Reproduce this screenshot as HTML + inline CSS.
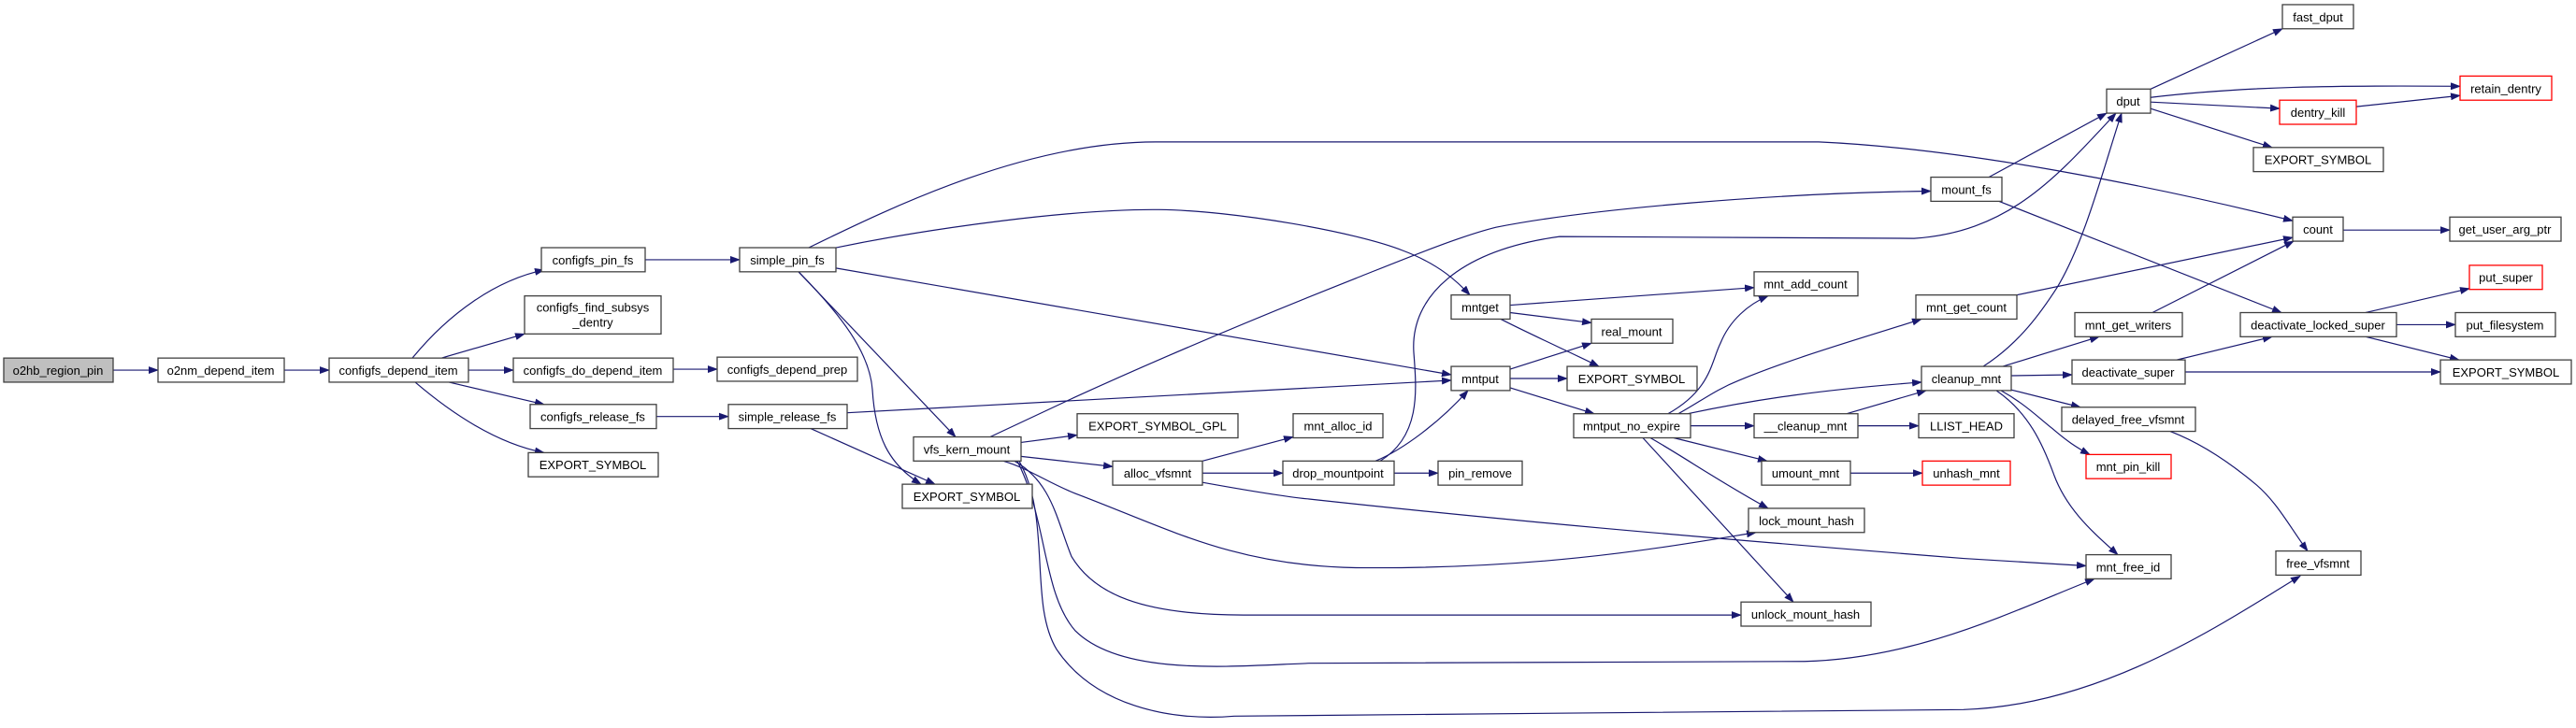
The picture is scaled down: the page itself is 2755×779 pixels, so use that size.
<!DOCTYPE html>
<html><head><meta charset="utf-8"><style>
html,body{margin:0;padding:0;background:#fff;}
svg{display:block;}
text{font-family:"Liberation Sans",Arial,sans-serif;font-size:13px;fill:#000;}
.b{fill:#fff;stroke:#404040;stroke-width:1.3;}
.r{fill:#fff;stroke:#ff0000;stroke-width:1.3;}
.g{fill:#bfbfbf;stroke:#404040;stroke-width:1.3;}
.e{fill:none;stroke:#191970;stroke-width:1.2;marker-end:url(#a);}
</style></head><body>
<svg width="2755" height="779" viewBox="0 0 2755 779" xmlns="http://www.w3.org/2000/svg">
<defs><marker id="a" markerUnits="userSpaceOnUse" markerWidth="11" markerHeight="8" refX="10" refY="4" orient="auto"><path d="M0,0 L11,4 L0,8 z" fill="#191970"/></marker></defs>
<g transform="scale(1,0.9926)">
<!-- edges -->
<path class="e" d="M121,399 L169,399"/>
<path class="e" d="M304,399 L352,399"/>
<path class="e" d="M441,386 C480,338 530,302 582,291"/>
<path class="e" d="M472,386 L561,360"/>
<path class="e" d="M501,399 L549,399"/>
<path class="e" d="M480,412 L582,436"/>
<path class="e" d="M444,412 C480,443 530,478 582,488"/>
<path class="e" d="M690,280 L791,280"/>
<path class="e" d="M720,398 L767,398"/>
<path class="e" d="M702,449 L779,449"/>
<path class="e" d="M865,267 C960,220 1100,153 1236,153 L1945,153 C2100,160 2300,200 2452,238"/>
<path class="e" d="M894,267 C1000,245 1150,225 1240,226 C1320,227 1450,250 1500,270 C1540,285 1560,305 1572,318"/>
<path class="e" d="M894,289 L1552,404"/>
<path class="e" d="M854,293 L1022,471"/>
<path class="e" d="M854,293 C900,340 930,380 933,420 C936,470 950,500 985,522"/>
<path class="e" d="M906,445 L1552,410"/>
<path class="e" d="M867,462 L1000,522"/>
<path class="e" d="M1059,471 L1150,428 C1250,382 1350,340 1450,300 C1500,280 1560,255 1600,245 C1700,225 1900,208 2065,206"/>
<path class="e" d="M1092,477 L1152,469"/>
<path class="e" d="M1092,492 L1190,503"/>
<path class="e" d="M1073,497 C1100,505 1120,520 1150,532 C1250,570 1320,610 1450,612 C1650,614 1780,590 1878,574"/>
<path class="e" d="M1085,497 C1125,520 1130,560 1146,600 C1170,640 1220,663 1330,663 L1862,663"/>
<path class="e" d="M1088,497 C1120,560 1115,640 1150,680 C1200,730 1320,718 1400,715 L1930,713 C2050,710 2150,660 2240,624"/>
<path class="e" d="M1090,497 C1125,560 1100,650 1130,700 C1170,760 1250,778 1320,772 L2100,765 C2250,760 2380,670 2460,621"/>
<path class="e" d="M1286,497 L1383,471"/>
<path class="e" d="M1286,510 L1372,510"/>
<path class="e" d="M1286,520 C1330,528 1370,535 1400,538 C1600,560 1800,578 2100,602 L2231,610"/>
<path class="e" d="M1471,497 C1500,485 1540,455 1570,421"/>
<path class="e" d="M1476,497 C1520,470 1515,420 1512,380 C1508,320 1560,270 1668,255 L2047,257 C2150,250 2200,190 2263,122"/>
<path class="e" d="M1491,510 L1538,510"/>
<path class="e" d="M1615,329 L1876,310"/>
<path class="e" d="M1615,337 L1702,348"/>
<path class="e" d="M1605,344 C1640,362 1680,380 1710,395"/>
<path class="e" d="M1615,398 L1702,370"/>
<path class="e" d="M1615,408 L1676,408"/>
<path class="e" d="M1615,418 L1705,446"/>
<path class="e" d="M1784,446 C1830,420 1830,390 1840,370 C1850,345 1870,328 1891,319"/>
<path class="e" d="M1795,446 C1820,432 1835,420 1860,410 C1920,385 1990,365 2055,344"/>
<path class="e" d="M1805,446 C1880,430 1950,420 2055,412"/>
<path class="e" d="M1808,459 L1876,459"/>
<path class="e" d="M1790,472 L1890,497"/>
<path class="e" d="M1765,472 C1800,492 1840,520 1891,548"/>
<path class="e" d="M1757,472 L1918,649"/>
<path class="e" d="M1975,446 L2060,421"/>
<path class="e" d="M1987,459 L2052,459"/>
<path class="e" d="M1979,510 L2056,510"/>
<path class="e" d="M2127,191 L2253,122"/>
<path class="e" d="M2138,217 L2440,337"/>
<path class="e" d="M2157,318 L2452,256"/>
<path class="e" d="M2121,395 C2160,370 2184,335 2200,310 C2230,260 2250,180 2269,122"/>
<path class="e" d="M2142,395 L2245,363"/>
<path class="e" d="M2151,405 L2216,404"/>
<path class="e" d="M2150,420 L2225,439"/>
<path class="e" d="M2140,421 C2165,435 2180,450 2195,462 C2210,475 2220,482 2235,490"/>
<path class="e" d="M2135,421 C2170,445 2185,480 2196,510 C2210,550 2240,575 2265,598"/>
<path class="e" d="M2302,337 L2453,260"/>
<path class="e" d="M2328,388 L2430,363"/>
<path class="e" d="M2337,401 L2610,401"/>
<path class="e" d="M2321,465 C2360,480 2392,505 2410,520 C2435,540 2450,570 2468,594"/>
<path class="e" d="M2300,96 L2441,31"/>
<path class="e" d="M2300,105 C2400,93 2500,92 2631,93"/>
<path class="e" d="M2300,110 L2438,117"/>
<path class="e" d="M2300,117 L2430,159"/>
<path class="e" d="M2520,115 L2631,103"/>
<path class="e" d="M2506,248 L2620,248"/>
<path class="e" d="M2530,337 L2641,311"/>
<path class="e" d="M2563,350 L2626,350"/>
<path class="e" d="M2530,363 L2630,388"/>

<!-- nodes -->
<rect class="g" x="4" y="386" width="117" height="26"/><text x="62" y="404" text-anchor="middle">o2hb_region_pin</text>
<rect class="b" x="169" y="386" width="135" height="26"/><text x="236" y="404" text-anchor="middle">o2nm_depend_item</text>
<rect class="b" x="352" y="386" width="149" height="26"/><text x="426" y="404" text-anchor="middle">configfs_depend_item</text>
<rect class="b" x="579" y="267" width="111" height="26"/><text x="634" y="285" text-anchor="middle">configfs_pin_fs</text>
<rect class="b" x="561" y="319" width="146" height="41"/><text x="634" y="336" text-anchor="middle">configfs_find_subsys</text><text x="634" y="352" text-anchor="middle">_dentry</text>
<rect class="b" x="549" y="386" width="171" height="26"/><text x="634" y="404" text-anchor="middle">configfs_do_depend_item</text>
<rect class="b" x="567" y="436" width="135" height="26"/><text x="634" y="454" text-anchor="middle">configfs_release_fs</text>
<rect class="b" x="565" y="488" width="139" height="26"/><text x="634" y="506" text-anchor="middle">EXPORT_SYMBOL</text>
<rect class="b" x="791" y="267" width="103" height="26"/><text x="842" y="285" text-anchor="middle">simple_pin_fs</text>
<rect class="b" x="767" y="385" width="150" height="26"/><text x="842" y="403" text-anchor="middle">configfs_depend_prep</text>
<rect class="b" x="779" y="436" width="127" height="26"/><text x="842" y="454" text-anchor="middle">simple_release_fs</text>
<rect class="b" x="977" y="471" width="115" height="26"/><text x="1034" y="489" text-anchor="middle">vfs_kern_mount</text>
<rect class="b" x="965" y="522" width="139" height="26"/><text x="1034" y="540" text-anchor="middle">EXPORT_SYMBOL</text>
<rect class="b" x="1152" y="446" width="172" height="26"/><text x="1238" y="464" text-anchor="middle">EXPORT_SYMBOL_GPL</text>
<rect class="b" x="1190" y="497" width="96" height="26"/><text x="1238" y="515" text-anchor="middle">alloc_vfsmnt</text>
<rect class="b" x="1383" y="446" width="96" height="26"/><text x="1431" y="464" text-anchor="middle">mnt_alloc_id</text>
<rect class="b" x="1372" y="497" width="119" height="26"/><text x="1431" y="515" text-anchor="middle">drop_mountpoint</text>
<rect class="b" x="1538" y="497" width="90" height="26"/><text x="1583" y="515" text-anchor="middle">pin_remove</text>
<rect class="b" x="1552" y="318" width="63" height="26"/><text x="1583" y="336" text-anchor="middle">mntget</text>
<rect class="b" x="1552" y="395" width="63" height="26"/><text x="1583" y="413" text-anchor="middle">mntput</text>
<rect class="b" x="1702" y="344" width="87" height="26"/><text x="1745" y="362" text-anchor="middle">real_mount</text>
<rect class="b" x="1676" y="395" width="139" height="26"/><text x="1745" y="413" text-anchor="middle">EXPORT_SYMBOL</text>
<rect class="b" x="1683" y="446" width="125" height="26"/><text x="1745" y="464" text-anchor="middle">mntput_no_expire</text>
<rect class="b" x="1876" y="293" width="111" height="26"/><text x="1931" y="311" text-anchor="middle">mnt_add_count</text>
<rect class="b" x="1876" y="446" width="111" height="26"/><text x="1931" y="464" text-anchor="middle">__cleanup_mnt</text>
<rect class="b" x="1884" y="497" width="95" height="26"/><text x="1931" y="515" text-anchor="middle">umount_mnt</text>
<rect class="b" x="1870" y="548" width="124" height="26"/><text x="1932" y="566" text-anchor="middle">lock_mount_hash</text>
<rect class="b" x="1862" y="649" width="139" height="26"/><text x="1931" y="667" text-anchor="middle">unlock_mount_hash</text>
<rect class="b" x="2065" y="191" width="76" height="26"/><text x="2103" y="209" text-anchor="middle">mount_fs</text>
<rect class="b" x="2049" y="318" width="108" height="26"/><text x="2103" y="336" text-anchor="middle">mnt_get_count</text>
<rect class="b" x="2055" y="395" width="96" height="26"/><text x="2103" y="413" text-anchor="middle">cleanup_mnt</text>
<rect class="b" x="2052" y="446" width="102" height="26"/><text x="2103" y="464" text-anchor="middle">LLIST_HEAD</text>
<rect class="r" x="2056" y="497" width="94" height="26"/><text x="2103" y="515" text-anchor="middle">unhash_mnt</text>
<rect class="b" x="2441" y="5" width="76" height="26"/><text x="2479" y="23" text-anchor="middle">fast_dput</text>
<rect class="b" x="2253" y="96" width="47" height="26"/><text x="2276" y="114" text-anchor="middle">dput</text>
<rect class="r" x="2631" y="82" width="98" height="26"/><text x="2680" y="100" text-anchor="middle">retain_dentry</text>
<rect class="r" x="2438" y="108" width="82" height="26"/><text x="2479" y="126" text-anchor="middle">dentry_kill</text>
<rect class="b" x="2410" y="159" width="139" height="26"/><text x="2479" y="177" text-anchor="middle">EXPORT_SYMBOL</text>
<rect class="b" x="2452" y="234" width="54" height="26"/><text x="2479" y="252" text-anchor="middle">count</text>
<rect class="b" x="2620" y="234" width="119" height="26"/><text x="2679" y="252" text-anchor="middle">get_user_arg_ptr</text>
<rect class="r" x="2641" y="286" width="78" height="26"/><text x="2680" y="304" text-anchor="middle">put_super</text>
<rect class="b" x="2219" y="337" width="115" height="26"/><text x="2276" y="355" text-anchor="middle">mnt_get_writers</text>
<rect class="b" x="2396" y="337" width="167" height="26"/><text x="2479" y="355" text-anchor="middle">deactivate_locked_super</text>
<rect class="b" x="2626" y="337" width="107" height="26"/><text x="2679" y="355" text-anchor="middle">put_filesystem</text>
<rect class="b" x="2216" y="388" width="121" height="26"/><text x="2276" y="406" text-anchor="middle">deactivate_super</text>
<rect class="b" x="2610" y="388" width="140" height="26"/><text x="2680" y="406" text-anchor="middle">EXPORT_SYMBOL</text>
<rect class="b" x="2205" y="439" width="143" height="26"/><text x="2276" y="457" text-anchor="middle">delayed_free_vfsmnt</text>
<rect class="r" x="2231" y="490" width="91" height="26"/><text x="2276" y="508" text-anchor="middle">mnt_pin_kill</text>
<rect class="b" x="2231" y="598" width="91" height="26"/><text x="2276" y="616" text-anchor="middle">mnt_free_id</text>
<rect class="b" x="2434" y="594" width="91" height="26"/><text x="2479" y="612" text-anchor="middle">free_vfsmnt</text>
</g>
</svg>
</body></html>
